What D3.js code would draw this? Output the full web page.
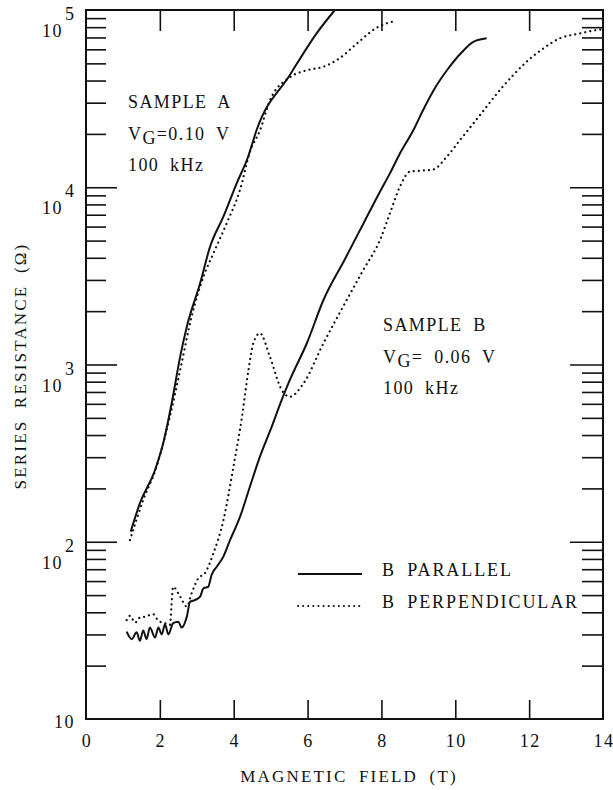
<!DOCTYPE html>
<html>
<head>
<meta charset="utf-8">
<script src="https://d3js.org/d3.v7.min.js"></script>
<style>
  body { margin: 0; background: #fff; }
  text { font-family: "Liberation Serif", "DejaVu Serif", serif; fill: #111; }
</style>
</head>
<body>
<svg width="613" height="790"></svg>
<script>
// field (T) and series resistance (ohm)
var aParField = [1.21, 1.46, 1.87, 2.09, 2.32, 2.55, 2.73, 3.09, 3.36, 3.72, 4.08, 4.39, 4.62, 5.52, 6.25, 6.74];
var aParRes   = [114, 165, 254, 359, 604, 1107, 1633, 2870, 4624, 6823, 10520, 14860, 21040, 42950, 74130, 100000];

var aPerpField = [1.19, 1.55, 1.91, 2.27, 2.55, 2.86, 3.18, 3.45, 3.81, 4.17, 4.44, 4.71, 4.98, 5.52, 5.98, 6.43, 6.88, 7.33, 7.87, 8.41];
var aPerpRes   = [102, 172, 265, 507, 931, 1862, 3126, 4236, 6266, 9660, 15850, 20890, 30900, 41690, 45710, 47860, 53700, 64570, 79430, 87100];

var bParField = [1.10, 1.24, 1.37, 1.46, 1.55, 1.64, 1.73, 1.87, 1.96, 2.05, 2.14, 2.23, 2.36, 2.50, 2.59, 2.73, 2.82, 2.95, 3.09, 3.18, 3.31, 3.40, 3.54, 3.72, 3.90, 4.17, 4.44, 4.71, 5.03, 5.30, 5.52, 5.98, 6.43, 7.0, 7.5, 7.96, 8.23, 8.50, 8.86, 9.13, 9.45, 9.81, 10.17, 10.49, 10.85];
var bParRes   = [31.1, 28.2, 30.9, 27.6, 31.6, 28.2, 32.8, 28.8, 32.8, 30.0, 34.2, 30.0, 34.7, 35.4, 32.8, 37.8, 45.9, 46.9, 49.0, 54.6, 55.7, 64.9, 72.3, 82.4, 102, 138, 205, 302, 446, 631, 818, 1318, 2312, 3890, 6170, 9440, 11970, 15490, 20890, 27290, 36310, 46770, 57540, 66070, 69180];

var bPerpField = [1.10, 1.19, 1.33, 1.46, 1.60, 1.82, 1.96, 2.14, 2.27, 2.36, 2.55, 2.73, 2.86, 3.04, 3.22, 3.45, 3.72, 3.99, 4.22, 4.40, 4.53, 4.71, 4.98, 5.30, 5.52, 5.89, 6.43, 7.06, 7.5, 7.96, 8.23, 8.50, 8.77, 9.04, 9.40, 9.77, 10.13, 10.49, 10.85, 11.21, 11.57, 11.93, 12.38, 12.83, 13.38, 13.83, 14.0];
var bPerpRes   = [36.1, 38.2, 35.0, 37.4, 37.8, 39.0, 35.8, 34.7, 33.9, 55.7, 49.0, 43.1, 51.2, 62.2, 66.4, 86.1, 132, 263, 501, 933, 1318, 1500, 1107, 718, 658, 783, 1318, 2312, 3390, 5035, 7129, 10070, 12250, 12390, 12590, 14860, 18490, 22910, 28510, 35400, 42950, 51050, 60670, 69180, 73790, 77090, 77620];

var xTicks = [0, 2, 4, 6, 8, 10, 12, 14];
var yDecades = [1, 2, 3, 4, 5];   // exponent labels, 10^1 .. 10^5

var svg = d3.select("svg");
var padL = 86, padR = 603, padT = 10, padB = 719;

var x = d3.scaleLinear().domain([0, 14]).range([padL, padR]);
var y = d3.scaleLog().domain([10, 1e5]).range([padB, padT]);

// minor ticks 2..9 in every decade
var minor = [];
yDecades.slice(0, 4).forEach(function (e) {
    for (var k = 2; k <= 9; k++) minor.push(k * Math.pow(10, e));
});
var major = yDecades.map(function (e) { return Math.pow(10, e); });

function tickAxis(axis, tx, ty) {
    var g = svg.append("g").attr("transform", "translate(" + tx + "," + ty + ")").call(axis);
    g.select(".domain").remove();
    g.selectAll("text").remove();
    g.selectAll("line").attr("stroke", "#111").attr("stroke-width", 1.6);
    return g;
}

tickAxis(d3.axisLeft(y).tickValues(minor).tickSize(-20), padL, 0);
tickAxis(d3.axisLeft(y).tickValues(major.slice(1, 4)).tickSize(-31), padL, 0);
tickAxis(d3.axisRight(y).tickValues(minor).tickSize(-21), padR, 0);
tickAxis(d3.axisRight(y).tickValues(major.slice(1, 4)).tickSize(-33), padR, 0);
tickAxis(d3.axisBottom(x).tickValues(xTicks.slice(1, -1)).tickSize(-19), 0, padB);
tickAxis(d3.axisTop(x).tickValues(xTicks.slice(1, -1)).tickSize(-21), 0, padT);

// frame
svg.append("rect")
    .attr("x", padL).attr("y", padT)
    .attr("width", padR - padL).attr("height", padB - padT)
    .attr("fill", "none").attr("stroke", "#111").attr("stroke-width", 2);

// x tick labels
svg.selectAll("text.xt")
    .data(xTicks)
  .enter().append("text")
    .attr("class", "xt")
    .attr("x", function (d) { return x(d) + 1; })
    .attr("y", 747)
    .attr("text-anchor", "middle")
    .attr("font-size", 18)
    .attr("letter-spacing", 1.5)
    .text(function (d) { return d; });

// y tick labels, 10 with exponent
yDecades.forEach(function (e) {
    var v = Math.pow(10, e);
    if (e === 1) {
        svg.append("text").attr("x", 75).attr("y", y(v) + 9)
            .attr("text-anchor", "end").attr("font-size", 18).attr("letter-spacing", 1.5).text("10");
    } else {
        svg.append("text").attr("x", 63).attr("y", y(v) + 27)
            .attr("text-anchor", "end").attr("font-size", 18).attr("letter-spacing", 1.5).text("10");
        svg.append("text").attr("x", 65).attr("y", y(v) + 10)
            .attr("font-size", 18).text(e);
    }
});

// axis titles
svg.append("text")
    .attr("x", 349).attr("y", 782)
    .attr("text-anchor", "middle")
    .attr("font-size", 17)
    .attr("letter-spacing", 2.2)
    .attr("word-spacing", 5)
    .text("MAGNETIC FIELD (T)");

svg.append("text")
    .attr("transform", "translate(26,366) rotate(-90)")
    .attr("text-anchor", "middle")
    .attr("font-size", 17)
    .attr("letter-spacing", 2.2)
    .attr("word-spacing", 5)
    .text("SERIES RESISTANCE (\u03A9)");

// curves
var line = d3.line()
    .x(function (d) { return x(d[0]); })
    .y(function (d) { return y(d[1]); })
    .curve(d3.curveMonotoneX);

function series(fx, ry, dotted) {
    var p = svg.append("path")
        .datum(d3.zip(fx, ry))
        .attr("d", line)
        .attr("fill", "none")
        .attr("stroke", "#111");
    if (dotted) {
        p.attr("stroke-width", 2.2).attr("stroke-linecap", "round").attr("stroke-dasharray", "0.1,5");
    } else {
        p.attr("stroke-width", 2);
    }
}

series(aParField, aParRes, false);
series(aPerpField, aPerpRes, true);
series(bParField, bParRes, false);
series(bPerpField, bPerpRes, true);

// sample annotations
function note(x0, y0, name, vg) {
    var g = svg.append("g").attr("font-size", 18).attr("letter-spacing", 1.4).attr("word-spacing", 5);
    g.append("text").attr("x", x0).attr("y", y0).text(name);
    var t = g.append("text").attr("x", x0).attr("y", y0 + 32);
    t.append("tspan").text("V");
    t.append("tspan").attr("dy", 4).text("G");
    t.append("tspan").attr("dy", -4).text(vg);
    g.append("text").attr("x", x0).attr("y", y0 + 63).text("100 kHz");
}
note(128, 108, "SAMPLE A", "=0.10 V");
note(383, 331, "SAMPLE B", "= 0.06 V");

// legend
var legend = [["B PARALLEL", false], ["B PERPENDICULAR", true]];
legend.forEach(function (d, i) {
    var ly = 574 + i * 32;
    var l = svg.append("line")
        .attr("x1", 298).attr("x2", 362)
        .attr("y1", ly).attr("y2", ly)
        .attr("stroke", "#111");
    if (d[1]) {
        l.attr("stroke-width", 2).attr("stroke-linecap", "round").attr("stroke-dasharray", "0.1,5");
    } else {
        l.attr("stroke-width", 2);
    }
    svg.append("text").attr("x", 382).attr("y", ly + 2)
        .attr("font-size", 18).attr("letter-spacing", 1.9).attr("word-spacing", 5).text(d[0]);
});
</script>
</body>
</html>
